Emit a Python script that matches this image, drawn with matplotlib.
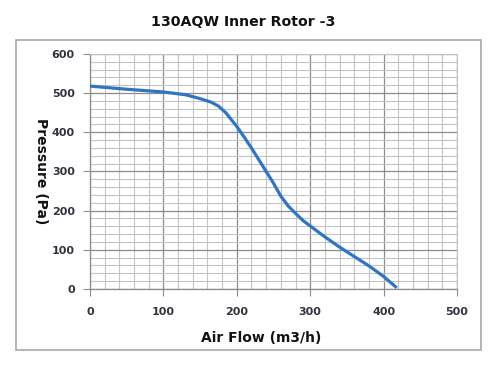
import matplotlib
matplotlib.use('Agg')
import matplotlib.pyplot as plt
from matplotlib.patches import Rectangle
from matplotlib.ticker import MultipleLocator

# values
air_flow = [0, 50, 100, 130, 150, 165, 175, 185, 200, 210, 220, 230, 240, 250, 260, 270, 280, 290, 300, 320, 340, 360, 380, 400, 418]
pressure = [518, 510, 503, 496, 486, 477, 467, 450, 415, 388, 360, 330, 300, 270, 237, 212, 193, 175, 161, 133, 107, 83, 59, 32, 3]

title = '130AQW Inner Rotor -3'
xlabel = 'Air Flow (m3/h)'
ylabel = 'Pressure (Pa)'

blue = (46/255, 117/255, 198/255)
tick_col = (0.2, 0.2, 0.25)

fig = plt.figure(figsize=(5, 3.76), dpi=100)
ax = fig.add_axes([0.18, 0.2314, 0.734, 0.625])

ax.plot(air_flow, pressure, color=blue, linewidth=2.3, solid_capstyle='butt', zorder=3)

ax.set_xlim(0, 500)
ax.set_ylim(0, 600)
ax.xaxis.set_major_locator(MultipleLocator(100))
ax.xaxis.set_minor_locator(MultipleLocator(20))
ax.yaxis.set_major_locator(MultipleLocator(100))
ax.yaxis.set_minor_locator(MultipleLocator(20))
ax.grid(which='major', color='#8c8c8c', linewidth=0.9)
ax.grid(which='minor', color='#c4c4c4', linewidth=0.8)
ax.set_axisbelow(True)

for side in ['top', 'right']:
  ax.spines[side].set_color('#c4c4c4')
  ax.spines[side].set_linewidth(0.8)
for side in ['left', 'bottom']:
  ax.spines[side].set_color('#8c8c8c')
  ax.spines[side].set_linewidth(0.9)

ax.tick_params(which='major', length=5, color='#8c8c8c', labelsize=8, labelcolor=tick_col, pad=6)
ax.tick_params(which='minor', length=0)
ax.tick_params(axis='x', pad=8)
for lab in ax.get_xticklabels() + ax.get_yticklabels():
  lab.set_fontweight('bold')

fig.text(0.486, 0.941, title, ha='center', va='center', fontsize=10.2, fontweight='bold', color='#111111')
fig.text(0.522, 0.101, xlabel, ha='center', va='center', fontsize=10, fontweight='bold', color='#111111')
fig.text(0.082, 0.545, ylabel, ha='center', va='center', fontsize=10, fontweight='bold', color='#111111', rotation=-90)

fig.patches.append(Rectangle((0.032, 0.069), 0.93, 0.824, transform=fig.transFigure,
                             fill=False, edgecolor='#a8a8a8', linewidth=1.2))

fig.savefig('out.png', dpi=100)
